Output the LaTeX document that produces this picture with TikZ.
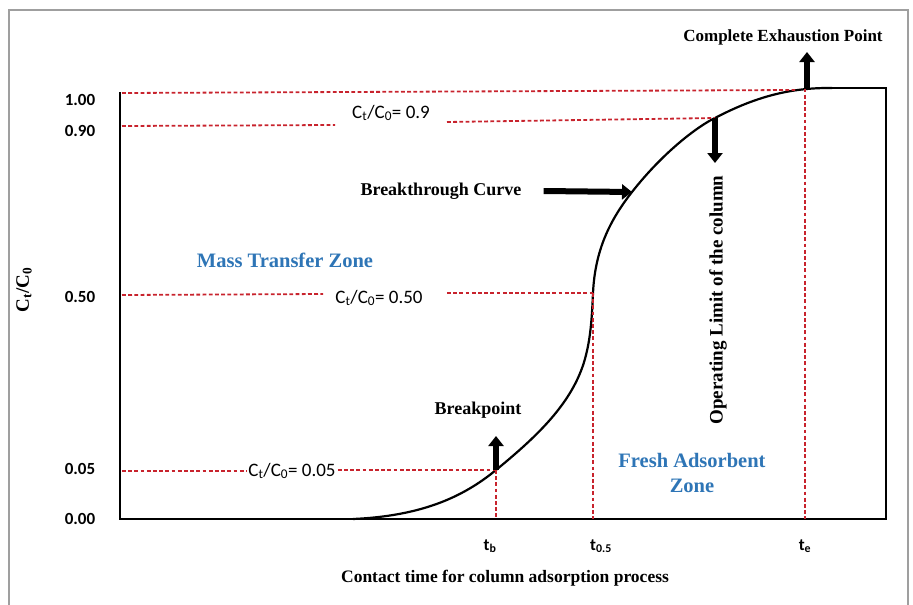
\documentclass[tikz,border=0pt]{standalone}
\usepackage{fontspec}
\setmainfont{Liberation Serif}
\newfontfamily\carl{Carlito}
\usetikzlibrary{arrows.meta}
\definecolor{dred}{RGB}{200,35,45}
\definecolor{zblue}{RGB}{46,117,182}
\tikzset{
  rdash/.style={draw=dred, line width=1.8pt, dash pattern=on 3.8pt off 2.4pt},
  bigarrow/.style={line width=6pt, -{Triangle[width=15pt,length=10pt]}},
  axisline/.style={line width=2.6pt, line cap=rect},
  curveline/.style={line width=2.2pt},
  blab/.style={font=\bfseries\fontsize{18}{20}\selectfont, inner sep=0pt},
  zlab/.style={font=\bfseries\fontsize{20.5}{25}\selectfont, text=zblue, inner sep=0pt, align=center},
  tick/.style={font=\carl\bfseries\fontsize{17}{19}\selectfont, inner sep=0pt},
  ratio/.style={font=\carl\fontsize{19}{21}\selectfont, inner sep=0pt},
}
\begin{document}
\begin{tikzpicture}[x=1pt,y=-1pt]
\useasboundingbox (0,0) rectangle (913,605);
\draw[gray!75, line width=1.3pt] (9,606) -- (9,10) -- (908,10) -- (908,606);

% key points
\coordinate (p1) at (805,88.5);
\coordinate (p09) at (715,118);
\coordinate (p05) at (593,293);
\coordinate (pb) at (496,470);
\coordinate (pbc) at (632,192);
\coordinate (l1) at (122,93);
\coordinate (l09) at (122,126);
\coordinate (l05) at (122,295);
\coordinate (l005) at (122,471);
\coordinate (bb) at (496,519);
\coordinate (b05) at (593,519);
\coordinate (be) at (805,519);
\coordinate (g09a) at (335,125);
\coordinate (g09b) at (447,122);
\coordinate (g05a) at (323,294);
\coordinate (g05b) at (447,293);

% axes and frame of plot
\draw[axisline] (120,93) -- (120,519) -- (886,519) -- (886,88) -- (830,88);

% curve
\draw[curveline] (353,519) .. controls (420,516) and (462,498) .. (pb)
  .. controls (540,434) and (575,400) .. (586,355)
  .. controls (591,335) and (592,315) .. (p05)
  .. controls (595,250) and (610,220) .. (pbc)
  .. controls (665,150) and (700,125) .. (p09)
  .. controls (755,97) and (790,87.5) .. (832,88);

% tick labels
\node[tick] (y100) at (80,100) {1.00};
\node[tick] (y090) at (80,131) {0.90};
\node[tick] (y050) at (80,297) {0.50};
\node[tick] (y005) at (80,469) {0.05};
\node[tick] (y000) at (80,519) {0.00};

\node[tick] (tb) at (490,546) {t\textsubscript{b}};
\node[tick] (t05) at (601,546) {t\textsubscript{0.5}};
\node[tick] (te) at (805,546) {t\textsubscript{e}};

% ratio labels
\node[ratio] (n09) at (391,113) {C\textsubscript{t}/C\textsubscript{0}= 0.9};
\node[ratio] (n05) at (379,298) {C\textsubscript{t}/C\textsubscript{0}= 0.50};
\node[ratio] (n005) at (292,471) {C\textsubscript{t}/C\textsubscript{0}= 0.05};

% dashed guides
\draw[rdash] (l1) -- (795,90);
\draw[rdash] (l09) -- (g09a);
\draw[rdash] (g09b) -- (p09);
\draw[rdash] (l05) -- (g05a);
\draw[rdash] (g05b) -- (p05);
\draw[rdash] (l005) -- ([xshift=-2pt]n005.west |- l005);
\draw[rdash] ([xshift=2pt]n005.east |- pb) -- (pb);
\draw[rdash] (pb) -- (bb);
\draw[rdash] (p05) -- (b05);
\draw[rdash] (p1) -- (be);

% labels
\node[blab] (bcurve) at (441,191) {Breakthrough Curve};
\node[blab] (bpoint) at (478,410) {Breakpoint};
\node[blab, font=\bfseries\fontsize{17}{19}\selectfont] (cep) at (783,37) {Complete Exhaustion Point};
\node[blab, rotate=90, font=\bfseries\fontsize{19}{21}\selectfont] (olc) at (718,300) {Operating Limit of the column};
\node[blab, font=\bfseries\fontsize{17.5}{20}\selectfont] (xlab) at (505,578) {Contact time for column adsorption process};
\node[blab, rotate=90, font=\bfseries\fontsize{19}{21}\selectfont] (ylab) at (24,290) {C\textsubscript{t}/C\textsubscript{0}};
\node[zlab] (mtz) at (285,260) {Mass Transfer Zone};
\node[zlab] (faz) at (692,473) {Fresh Adsorbent\\Zone};

% arrows
\coordinate (bpa) at (496,436);
\coordinate (ola) at (715,163);
\coordinate (cea) at (807,52);
\draw[bigarrow] (pb) -- (bpa);
\draw[bigarrow] ([xshift=22pt]bcurve.east) -- (pbc);
\draw[bigarrow] (p09) -- (ola);
\draw[bigarrow] (807,88) -- (cea);
\end{tikzpicture}
\end{document}
